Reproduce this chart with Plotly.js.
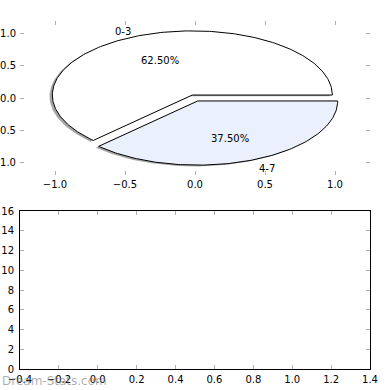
<!DOCTYPE html>
<html>
<head>
<meta charset="utf-8">
<script src="https://cdn.plot.ly/plotly-3.0.1.min.js"></script>
<style>html,body{margin:0;padding:0;background:#fff;}#chart{width:390px;height:390px;}</style>
</head>
<body>
<div id="chart"></div>
<script>
// ---- data ----
const labels = ['0-3', '4-7'];
const values = [5, 3];
const colors = ['#ffffff', '#eaf0fc'];
const explode = [0.05, 0.05];
const pieXTicks = [-1.0, -0.5, 0.0, 0.5, 1.0];
const pieYTicks = [-1.0, -0.5, 0.0, 0.5, 1.0];
const barXTicks = [-0.4, -0.2, 0.0, 0.2, 0.4, 0.6, 0.8, 1.0, 1.2, 1.4];
const barYTicks = [0, 2, 4, 6, 8, 10, 12, 14, 16];

// ---- geometry derived from data ----
const total = values.reduce((a, b) => a + b, 0);
const FONT = 'DejaVu Sans, sans-serif';
const traces = [];
const shadows = [];
const annotations = [];
let theta = 0;
values.forEach((v, i) => {
  const frac = v / total;
  const t1 = theta, t2 = theta + frac * 360;
  const mid = (t1 + t2) / 2 * Math.PI / 180;
  const cx = explode[i] * Math.cos(mid), cy = explode[i] * Math.sin(mid);
  const xs = [cx], ys = [cy];
  const n = Math.max(2, Math.ceil(t2 - t1));
  for (let k = 0; k <= n; k++) {
    const a = (t1 + (t2 - t1) * k / n) * Math.PI / 180;
    xs.push(cx + Math.cos(a));
    ys.push(cy + Math.sin(a));
  }
  xs.push(cx); ys.push(cy);
  shadows.push({
    type: 'scatter', mode: 'lines', x: xs.map(x => x - 0.02), y: ys.map(y => y - 0.02),
    fill: 'toself', fillcolor: 'rgba(77,77,77,0.5)', line: {width: 0, color: 'rgba(0,0,0,0)'},
    xaxis: 'x', yaxis: 'y', hoverinfo: 'skip', showlegend: false
  });
  traces.push({
    type: 'scatter', mode: 'lines', x: xs, y: ys,
    fill: 'toself', fillcolor: colors[i], line: {width: 1, color: '#000'},
    xaxis: 'x', yaxis: 'y', hoverinfo: 'skip', showlegend: false
  });
  const lx = 1.1 * Math.cos(mid) + cx, ly = 1.1 * Math.sin(mid) + cy;
  annotations.push({
    x: lx, y: ly, xref: 'x', yref: 'y', text: labels[i], showarrow: false,
    xanchor: lx < 0 ? 'right' : 'left', yanchor: 'middle', yshift: -2,
    font: {family: FONT, size: 10, color: '#000'}
  });
  const px = 0.6 * Math.cos(mid) + cx, py = 0.6 * Math.sin(mid) + cy;
  annotations.push({
    x: px, y: py, xref: 'x', yref: 'y', text: (frac * 100).toFixed(2) + '%', showarrow: false,
    xanchor: 'center', yanchor: 'middle', yshift: -1.5,
    font: {family: FONT, size: 10, color: '#000'}
  });
  theta = t2;
});

// empty second axes
const emptyTrace = {type: 'scatter', mode: 'markers', x: [], y: [], xaxis: 'x2', yaxis: 'y2', showlegend: false, hoverinfo: 'skip'};

annotations.push({
  xref: 'paper', yref: 'paper', x: 0, y: (390 - 381) / 390, xanchor: 'left', yanchor: 'middle',
  text: 'Dream-Stats.com', showarrow: false,
  font: {family: FONT, size: 12, color: 'rgba(120,120,120,0.6)'}
});

const tickStyle = {
  ticks: 'inside', ticklen: 4, tickwidth: 1, tickcolor: '#b0b0b0',
  showgrid: false, zeroline: false,
  tickfont: {family: FONT, size: 10, color: '#000'}
};

const layout = {
  width: 390, height: 390,
  margin: {l: 0, r: 0, t: 0, b: 0},
  paper_bgcolor: '#fff', plot_bgcolor: 'rgba(0,0,0,0)',
  showlegend: false,
  xaxis: Object.assign({}, tickStyle, {
    domain: [20 / 390, 370 / 390], anchor: 'y', range: [-1.25, 1.25],
    tickvals: pieXTicks, tickformat: '.1f', showline: false, mirror: 'ticks', ticklabelstandoff: 2
  }),
  yaxis: Object.assign({}, tickStyle, {
    domain: [(390 - 175) / 390, (390 - 21) / 390], anchor: 'x', range: [-1.2, 1.2],
    tickvals: pieYTicks, tickformat: '.1f', showline: false, mirror: 'ticks', ticklabelstandoff: 3
  }),
  xaxis2: Object.assign({}, tickStyle, {
    domain: [20 / 390, 370 / 390], anchor: 'y2', range: [-0.4, 1.4],
    tickvals: barXTicks, tickformat: '.1f', showline: true, linecolor: '#000', linewidth: 1, mirror: 'ticks', ticklabelstandoff: 1
  }),
  yaxis2: Object.assign({}, tickStyle, {
    domain: [(390 - 369) / 390, (390 - 211) / 390], anchor: 'x2', range: [0, 16],
    tickvals: barYTicks, showline: true, linecolor: '#000', linewidth: 1, mirror: 'ticks', ticklabelstandoff: 3
  }),
  annotations: annotations
};

Plotly.newPlot('chart', shadows.concat(traces).concat([emptyTrace]), layout, {staticPlot: true, displayModeBar: false});
</script>
</body>
</html>
